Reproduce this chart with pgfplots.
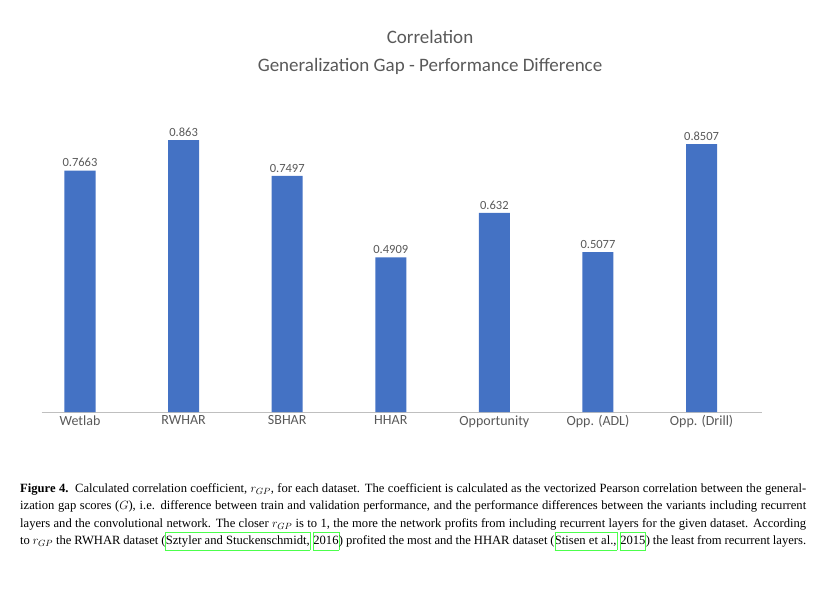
\documentclass[border=0pt]{standalone}
\usepackage{pgfplots}
\pgfplotsset{compat=1.18}
\usepackage{fontspec}
\setmainfont{Liberation Serif}
\newfontfamily\carl{Carlito}
\definecolor{bar}{HTML}{4472C4}
\definecolor{txt}{HTML}{595959}
\newcommand{\cb}[1]{{\setlength\fboxsep{0pt}\setlength\fboxrule{0.4pt}\fcolorbox{green!70}{white}{\strut #1}}}
\begin{document}
\begin{tikzpicture}
\path (-80pt,-196pt) rectangle (746pt,412pt);
\begin{axis}[at={(0,0)},anchor=origin,scale only axis,width=720pt,height=315pt,
 xmin=-0.37,xmax=6.58,ymin=0,ymax=1,
 ytick={0,0.25,0.5,0.75,1},yticklabels={0,0.25,0.5,0.75,1},
 xtick={0,...,6},xticklabels={Wetlab,RWHAR,SBHAR,HHAR,Opportunity,Opp. (ADL),Opp. (Drill)},
 ymajorgrids,grid style={gray!30},
 axis x line*=bottom,axis y line=none,
 x axis line style={gray!50},
 tick style={draw=none},
 ticklabel style={font=\carl\fontsize{12}{14}\selectfont,text=txt},
 xticklabel style={font=\carl\fontsize{14}{16}\selectfont,text=txt},
 yticklabel style={xshift=-16pt},
 ]
\addplot[ybar,bar width=31pt,fill=bar,draw=none,
 nodes near coords,every node near coord/.append style={font=\carl\fontsize{12.5}{14}\selectfont,text=txt},
 point meta=explicit symbolic]
 coordinates {(0,0.7663)[0.7663] (1,0.863)[0.863] (2,0.7497)[0.7497] (3,0.4909)[0.4909] (4,0.632)[0.632] (5,0.5077)[0.5077] (6,0.8507)[0.8507]};
\end{axis}
\node[font=\carl\fontsize{19}{28}\selectfont,text=txt,align=center] at (350pt,360pt) {Correlation\\Generalization Gap - Performance Difference};
\node[anchor=north west,text width=786pt,align=justify,inner sep=0pt,font=\fontsize{12.6}{17.6}\selectfont] at (-60pt,-71pt)
{\textbf{Figure 4.}\ \ Calculated correlation coefficient, $r_{GP}$, for each dataset. The coefficient is calculated as the vectorized Pearson correlation between the generalization gap scores ($G$), i.e. difference between train and validation performance, and the performance differences between the variants including recurrent layers and the convolutional network. The closer $r_{GP}$ is to 1, the more the network profits from including recurrent layers for the given dataset. According to $r_{GP}$ the RWHAR dataset (\cb{Sztyler and Stuckenschmidt,} \cb{2016}) profited the most and the HHAR dataset (\cb{Stisen et al.,} \cb{2015}) the least from recurrent layers.};
\end{tikzpicture}
\end{document}
